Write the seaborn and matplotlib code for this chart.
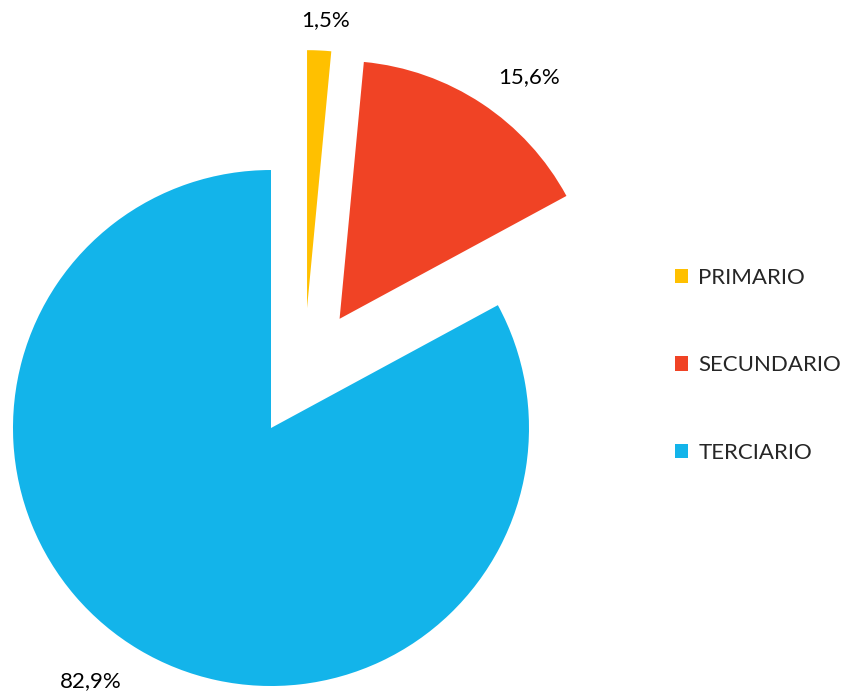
import matplotlib
matplotlib.use('Agg')
import matplotlib.pyplot as plt
import numpy as np
import seaborn as sns

# datos
sectores = ['PRIMARIO', 'SECUNDARIO', 'TERCIARIO']
porcentajes = [1.5, 15.6, 82.9]
colores = ['#FFC000', '#F04325', '#13B4EA']

# posicion de las etiquetas: distancia (en radios) y giro (grados) respecto al centro de cada sector
dist_etiq = [1.12, 1.19, 1.205]
giro_etiq = [-0.9, -4.7, -4.7]

sns.set_style('white')
plt.rcParams['font.family'] = ['Lato', 'DejaVu Sans']

fig = plt.figure(figsize=(8.43, 6.92), dpi=100)
ax = fig.add_axes([0, 0, 1, 1])

wedges, textos, autotextos = ax.pie(
    porcentajes, colors=colores, startangle=90, counterclock=False,
    explode=[0.25, 0.25, 0.25], radius=1,
    autopct=lambda p: f'{p:.1f}%'.replace('.', ','),
    textprops={'fontsize': 16, 'color': '#000000'},
    wedgeprops={'linewidth': 0})

# recolocar las etiquetas fuera del sector
for w, t, d, g in zip(wedges, autotextos, dist_etiq, giro_etiq):
    ang = np.deg2rad((w.theta1 + w.theta2) / 2 + g)
    cx0, cy0 = w.center
    t.set_position((cx0 + d * np.cos(ang), cy0 + d * np.sin(ang)))
    t.set_ha('center')
    t.set_va('center')

# 258 px por unidad, centro en (304, 372.6) px
esc = 258.0
cx, cy = 304.0, 372.6
ax.set_xlim(-cx / esc, (843 - cx) / esc)
ax.set_ylim(-(692 - cy) / esc, cy / esc)
ax.set_aspect('auto')
ax.axis('off')

ax.legend(wedges, sectores, loc='center left', bbox_to_anchor=(0.79, 0.472),
          bbox_transform=fig.transFigure, frameon=False, fontsize=16,
          labelspacing=3.05, handlelength=0.6, handleheight=0.6,
          handletextpad=0.45, borderaxespad=0)

fig.savefig('out.png', dpi=100)
